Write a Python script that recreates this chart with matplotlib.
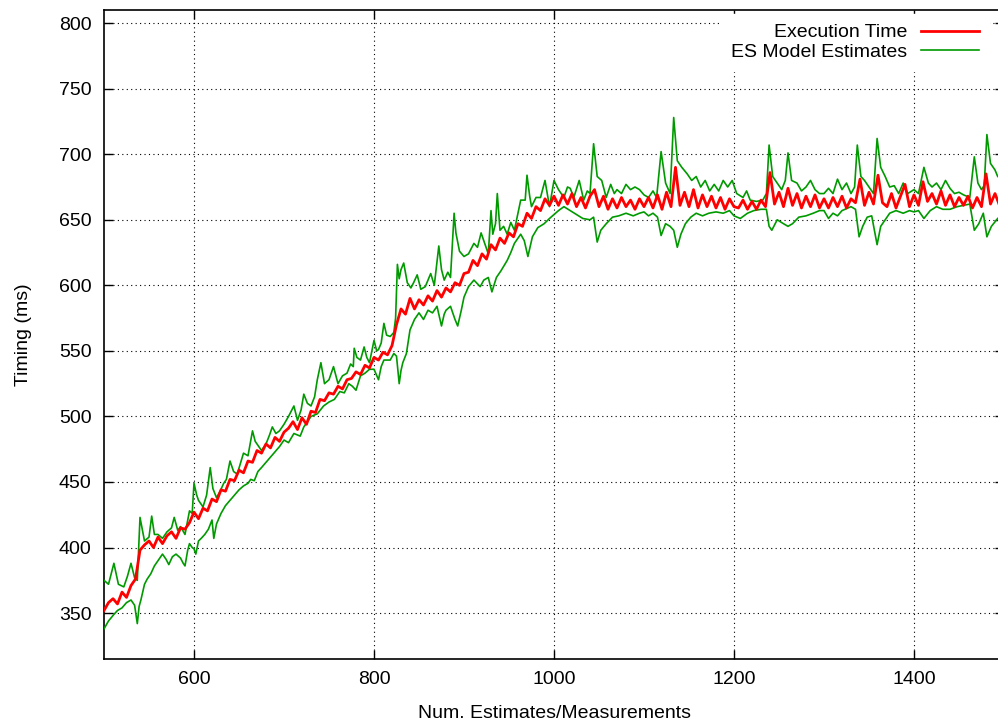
import numpy as np
import matplotlib
matplotlib.use('Agg')
import matplotlib.pyplot as plt

plt.rcParams['font.family'] = ['Liberation Sans', 'DejaVu Sans']

# Execution time, one value every 5 estimates (500 .. 1500)
exec_x = np.arange(500, 1501, 5)
exec_ms = [
    352, 358, 361, 357, 366, 362, 371, 376, 398, 402,
    405, 400, 408, 403, 409, 412, 407, 415, 414, 419,
    427, 422, 430, 428, 437, 435, 444, 443, 452, 451,
    459, 457, 466, 465, 474, 472, 479, 476, 484, 481,
    488,
    491, 496, 490, 499, 494, 504, 503, 513, 512, 518,
    517, 523, 521, 528, 529, 534, 532, 539, 537, 545,
    543, 549, 547, 554, 570, 582, 578, 590, 582, 589,
    585, 592, 588, 596, 591, 598, 595, 602, 600, 609,
    610, 619, 615, 624, 620, 631, 627, 636, 632, 640,
    637, 647, 645, 655, 651, 660, 657, 666, 661, 668,
    661, 669, 662, 670, 660, 667, 659, 668, 673, 660,
    668, 658, 666, 659, 667, 660, 665, 658, 666, 660,
    667, 659, 669, 658, 671, 660, 690, 661, 671, 660,
    673, 659, 669, 660, 668, 659, 667, 658, 666, 660,
    659, 665, 658, 664, 658, 665, 660, 686, 662, 671,
    660, 674, 661, 670, 659, 668, 660, 669, 659, 666,
    659, 667, 660, 668, 659, 666, 663, 681, 661, 671,
    662, 684, 663, 660, 670, 659, 668, 677, 660, 669,
    661, 679, 664, 670, 662, 672, 661, 669, 660, 667,
    661, 668, 659, 667, 660, 685, 662, 670, 661, 669,
]

# ES model estimates: upper and lower curves, (estimate no., ms)
es_upper = [
    (500, 375), (505, 372), (511, 388), (516, 372), (522, 370), (526, 378), (530, 388),
    (534, 377), (537, 375), (540, 423), (545, 405), (550, 408), (553, 424), (556, 410),
    (560, 410), (565, 407), (570, 412), (575, 415), (578, 423), (582, 413), (585, 416),
    (590, 410), (595, 428), (598, 426), (600, 449), (603, 440), (605, 436), (610, 431),
    (614, 440), (618, 461), (621, 445), (625, 438), (629, 443), (633, 449), (636, 452),
    (640, 466), (644, 458), (648, 456), (652, 465), (655, 472), (660, 470), (665, 489),
    (668, 481), (670, 479), (675, 474), (680, 479), (684, 486), (687, 492), (691, 487),
    (695, 489), (700, 494), (705, 500), (711, 508), (715, 497), (719, 505), (722, 517),
    (726, 510), (730, 508), (734, 515), (737, 528), (741, 541), (745, 525), (750, 528),
    (755, 538), (760, 525), (765, 531), (770, 533), (774, 540), (777, 538), (778, 552),
    (781, 545), (785, 543), (789, 553), (792, 545), (795, 541), (800, 558), (803, 550),
    (805, 551), (808, 556), (811, 571), (814, 562), (818, 561), (822, 564), (824, 575),
    (826, 616), (828, 605), (830, 612), (833, 617), (837, 602), (841, 598), (844, 602),
    (848, 608), (852, 597), (857, 599), (860, 604), (863, 609), (867, 600), (872, 630),
    (875, 612), (878, 604), (882, 610), (885, 606), (889, 655), (891, 640), (895, 626),
    (900, 622), (905, 624), (911, 632), (915, 629), (919, 640), (922, 634), (927, 624),
    (930, 657), (932, 639), (935, 647), (937, 670), (940, 642), (944, 645), (948, 639),
    (952, 648), (956, 642), (960, 655), (963, 665), (968, 665), (970, 684), (973, 668),
    (975, 660), (980, 667), (985, 667), (990, 680), (995, 660), (1000, 680), (1005, 673),
    (1011, 667), (1015, 675), (1018, 674), (1022, 667), (1028, 680), (1033, 665),
    (1037, 672), (1040, 670), (1044, 708), (1048, 683), (1053, 680), (1058, 667),
    (1063, 677), (1067, 670), (1070, 673), (1075, 670), (1080, 677), (1085, 673),
    (1090, 675), (1095, 673), (1100, 669), (1105, 667), (1110, 672), (1114, 667),
    (1119, 702), (1124, 678), (1129, 670), (1133, 728), (1137, 695), (1142, 690),
    (1148, 685), (1153, 680), (1158, 683), (1163, 675), (1168, 680), (1173, 672),
    (1178, 677), (1183, 672), (1188, 680), (1193, 675), (1198, 680), (1203, 670),
    (1210, 667), (1214, 672), (1218, 665), (1225, 664), (1232, 665), (1236, 670),
    (1239, 707), (1243, 683), (1248, 678), (1253, 673), (1257, 680), (1260, 701),
    (1264, 680), (1270, 678), (1275, 672), (1280, 675), (1285, 680), (1290, 673),
    (1295, 670), (1300, 670), (1305, 674), (1310, 670), (1315, 681), (1320, 673),
    (1325, 678), (1330, 670), (1334, 675), (1337, 707), (1341, 683), (1345, 680),
    (1350, 675), (1355, 670), (1359, 712), (1363, 690), (1368, 683), (1373, 675),
    (1378, 676), (1383, 670), (1388, 678), (1393, 670), (1400, 673), (1405, 670),
    (1411, 690), (1416, 678), (1420, 675), (1425, 678), (1430, 673), (1435, 680),
    (1440, 674), (1445, 670), (1450, 671), (1455, 669), (1462, 667), (1467, 698),
    (1471, 678), (1475, 673), (1478, 676), (1481, 715), (1485, 693), (1490, 688),
    (1493, 683), (1500, 680),
]
es_lower = [
    (500, 338), (505, 344), (511, 349), (515, 352), (520, 354), (525, 358), (530, 360),
    (534, 356), (537, 342), (539, 355), (541, 360), (545, 372), (548, 376), (552, 380),
    (556, 386), (560, 390), (565, 395), (569, 391), (572, 387), (576, 393), (580, 395),
    (585, 392), (588, 388), (590, 386), (593, 398), (595, 403), (598, 400), (600, 399),
    (602, 395), (605, 405), (608, 407), (612, 410), (616, 414), (620, 421), (622, 407),
    (625, 418), (630, 426), (635, 432), (640, 436), (645, 440), (650, 444), (655, 447),
    (660, 449), (663, 452), (667, 451), (671, 458), (675, 461), (680, 465), (685, 469),
    (690, 473), (695, 477), (700, 482), (705, 480), (711, 487), (718, 485), (722, 492),
    (726, 496), (730, 500), (737, 502), (744, 508), (750, 511), (756, 513), (762, 519),
    (767, 518), (772, 525), (776, 523), (780, 520), (785, 531), (790, 533), (795, 536),
    (800, 536), (805, 528), (808, 538), (811, 543), (818, 543), (822, 548), (825, 546),
    (828, 525), (830, 535), (832, 541), (836, 548), (840, 566), (845, 574), (850, 579),
    (855, 574), (860, 581), (865, 579), (870, 584), (875, 569), (878, 578), (880, 581),
    (885, 584), (890, 574), (893, 569), (897, 581), (900, 591), (905, 599), (911, 604),
    (918, 599), (922, 604), (927, 606), (931, 595), (936, 606), (941, 611), (948, 619),
    (952, 625), (956, 632), (960, 636), (963, 639), (967, 634), (971, 622), (976, 637),
    (982, 644), (989, 647), (995, 651), (1000, 654), (1005, 657), (1011, 660),
    (1018, 657), (1025, 654), (1032, 651), (1040, 650), (1044, 652), (1048, 633),
    (1052, 642), (1058, 647), (1065, 652), (1072, 653), (1080, 655), (1088, 653),
    (1095, 655), (1100, 656), (1105, 653), (1110, 655), (1115, 652), (1119, 638),
    (1124, 647), (1129, 645), (1133, 642), (1137, 629), (1141, 639), (1146, 647),
    (1152, 652), (1158, 655), (1165, 653), (1172, 655), (1180, 656), (1188, 655),
    (1195, 657), (1200, 653), (1207, 651), (1215, 655), (1222, 657), (1230, 658),
    (1236, 658), (1239, 645), (1242, 642), (1248, 650), (1255, 647), (1260, 645),
    (1265, 647), (1272, 652), (1280, 653), (1288, 655), (1295, 657), (1300, 657),
    (1305, 651), (1310, 655), (1315, 653), (1320, 657), (1330, 660), (1335, 658),
    (1339, 637), (1343, 645), (1348, 652), (1353, 653), (1359, 631), (1363, 645),
    (1368, 650), (1373, 655), (1380, 657), (1388, 655), (1395, 657), (1400, 656),
    (1405, 657), (1411, 651), (1418, 657), (1425, 660), (1432, 658), (1440, 658),
    (1448, 660), (1455, 661), (1462, 662), (1467, 642), (1472, 647), (1477, 655),
    (1481, 637), (1486, 645), (1493, 651), (1500, 655),
]

x_ticks = [600, 800, 1000, 1200, 1400]
y_ticks = [350, 400, 450, 500, 550, 600, 650, 700, 750, 800]

up_x, up_y = zip(*es_upper)
lo_x, lo_y = zip(*es_lower)

fig = plt.figure(figsize=(9.98, 7.24), dpi=100)
# the right border falls just outside the picture, as in the original
ax = fig.add_axes([104 / 998, 65 / 724, 900 / 998, 649 / 724])

red_line, = ax.plot(exec_x, exec_ms, color='#ff0000', lw=2.0, zorder=4,
                    label='Execution Time')
green_line, = ax.plot(up_x, up_y, color='#009a00', lw=1.2, zorder=3,
                      label='ES Model Estimates')
ax.plot(lo_x, lo_y, color='#009a00', lw=1.2, zorder=3)

ax.set_xlim(500, 1500)
ax.set_ylim(315, 810)
ax.set_xticks(x_ticks)
ax.set_yticks(y_ticks)
ax.tick_params(direction='in', length=6.5, width=1.0, top=True, right=True,
               labelsize=14)
ax.tick_params(axis='y', pad=9)
ax.tick_params(axis='x', pad=9)
for s in ax.spines.values():
    s.set_linewidth(1.2)
ax.grid(True, color='black', lw=0.8, linestyle=(0, (1, 3)))

ax.set_xlabel('Num. Estimates/Measurements', fontsize=14, labelpad=12)
ax.set_ylabel('Timing (ms)', fontsize=14, labelpad=19)

leg = ax.legend(handles=[red_line, green_line], loc='upper right',
                bbox_to_anchor=(989 / 998, 710 / 724), bbox_transform=fig.transFigure,
                markerfirst=False, fontsize=14, frameon=True, fancybox=False,
                handlelength=3.0, handletextpad=0.72, labelspacing=0.12,
                borderpad=0.5, borderaxespad=0)
leg.get_frame().set_facecolor('white')
leg.get_frame().set_edgecolor('white')
leg.get_frame().set_alpha(1)

fig.savefig('out.png', dpi=100)
